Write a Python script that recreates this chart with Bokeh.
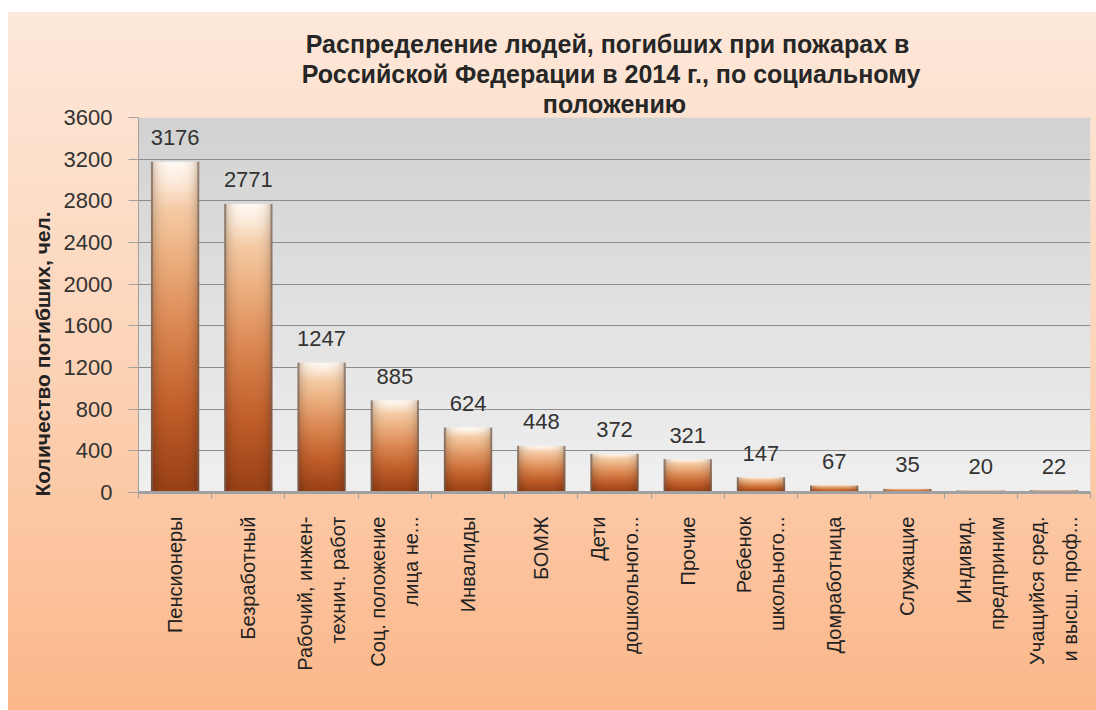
import numpy as np
from bokeh.plotting import figure
from bokeh.models import (ColumnDataSource, Range1d, FixedTicker, Title,
                          InlineStyleSheet)
from bokeh.core.properties import value
from bokeh.embed import file_html
from bokeh.resources import INLINE

# ---------------- data ----------------
categories = [
    "Пенсионеры",
    "Безработный",
    "Рабочий, инжен-\nтехнич. работ",
    "Соц. положение\nлица не...",
    "Инвалиды",
    "БОМЖ",
    "Дети\nдошкольного...",
    "Прочие",
    "Ребенок\nшкольного...",
    "Домработница",
    "Служащие",
    "Индивид.\nпредприним",
    "Учащийся сред.\nи высш. проф...",
]
deaths = [3176, 2771, 1247, 885, 624, 448, 372, 321, 147, 67, 35, 20, 22]
y_ticks = [0, 400, 800, 1200, 1600, 2000, 2400, 2800, 3200, 3600]
title_lines = ["Распределение  людей, погибших при пожарах  в",
               "Российской Федерации  в 2014 г., по социальному",
               "положению"]
y_label = "Количество погибших, чел."

FONT = "Liberation Sans"
n = len(categories)
centers = [i + 0.5 for i in range(n)]
bounds = [float(i) for i in range(n + 1)]
BAR_W = 0.66


def pack(r, g, b):
    h, w = r.shape
    img = np.empty((h, w), dtype=np.uint32)
    v = img.view(dtype=np.uint8).reshape((h, w, 4))
    v[..., 0] = np.clip(r, 0, 255)
    v[..., 1] = np.clip(g, 0, 255)
    v[..., 2] = np.clip(b, 0, 255)
    v[..., 3] = 255
    return img


# bar gradient (row 0 = bottom)
H, W = 256, 48
t = np.linspace(0, 1, H)[:, None] * np.ones((1, W))
u = np.ones((H, 1)) * np.linspace(0, 1, W)[None, :]
ts = [0.0, 0.25, 0.5, 0.75, 0.9, 1.0]
R = np.interp(t, ts, [152, 192, 220, 240, 248, 252])
G = np.interp(t, ts, [64, 94, 136, 184, 212, 232])
B = np.interp(t, ts, [22, 42, 82, 138, 178, 212])
s = np.abs(u - 0.5) * 2
shade = 1 - 0.22 * s ** 4
R, G, B = R * shade, G * shade, B * shade
glow = np.clip((t - 0.86) / 0.14, 0, 1) * (1 - s ** 2) * 0.8
R = R + (255 - R) * glow
G = G + (255 - G) * glow
B = B + (255 - B) * glow
edge = (s > 0.94).astype(float) * 0.65
R = R + (118 - R) * edge
G = G + (100 - G) * edge
B = B + (90 - B) * edge
bar_img = pack(R, G, B)

# plot-area gradient
bh = np.linspace(0, 1, 128)[:, None] * np.ones((1, 2))
gray = np.interp(bh, [0, 1], [240, 210])
bg_img = pack(gray, gray, gray)

# ---------------- figure ----------------
p = figure(width=1096, height=710, output_backend="svg", toolbar_location=None,
           x_range=Range1d(0, n), y_range=Range1d(0, 3600),
           min_border_left=138, min_border_right=6, min_border_top=117,
           min_border_bottom=218)
p.border_fill_alpha = 0
p.background_fill_alpha = 0
p.outline_line_color = None
p.stylesheets.append(InlineStyleSheet(css=(
    ":host { background-image: linear-gradient(to bottom, #fde8da 0%, #fcd6bb 45%, #fbb78a 100%);"
    " background-repeat: no-repeat; background-position: 8px 12px;"
    " background-size: calc(100% - 8px) calc(100% - 12px); }")))

p.image_rgba(image=[bg_img], x=0, y=0, dw=n, dh=3600, level="image")

bars = ColumnDataSource(dict(
    image=[bar_img] * n,
    x=[c - BAR_W / 2 for c in centers],
    y=[0] * n,
    dw=[BAR_W] * n,
    dh=deaths,
))
p.image_rgba(image="image", x="x", y="y", dw="dw", dh="dh", source=bars)

labels = ColumnDataSource(dict(x=centers, y=deaths, text=[str(v) for v in deaths]))
p.text(x="x", y="y", text="text", source=labels, text_align="center",
       text_baseline="middle", y_offset=-24, text_font=value(FONT),
       text_font_size="22px", text_color="#333333")


# title: three centred lines
def style_title(tt):
    tt.align = "center"
    tt.text_font = FONT
    tt.text_font_size = "25px"
    tt.text_font_style = "bold"
    tt.text_color = "#262626"
    tt.standoff = 0
    tt.offset = 8


p.title.text = title_lines[0]
style_title(p.title)
for line in [title_lines[2], title_lines[1]]:
    tt = Title(text=line)
    style_title(tt)
    p.add_layout(tt, "above")

# grid
p.xgrid.grid_line_color = None
p.ygrid.grid_line_color = "#8c8c8c"
p.ygrid.grid_line_width = 1
p.ygrid.ticker = FixedTicker(ticks=y_ticks)

# y axis
yax = p.yaxis[0]
yax.ticker = FixedTicker(ticks=y_ticks)
yax.major_label_text_font = FONT
yax.major_label_text_font_size = "22px"
yax.major_label_text_color = "#333333"
yax.major_label_standoff = 16
yax.major_tick_out = 10
yax.major_tick_in = 0
yax.major_tick_line_color = "#a0a0a0"
yax.minor_tick_line_color = None
yax.axis_line_color = "#a0a0a0"

# y axis title, bottom-aligned as in the original
ytitle = Title(text=y_label, align="left", text_font=FONT,
               text_font_size="21px", text_font_style="bold",
               text_color="#222222", standoff=14, offset=-4)
p.add_layout(ytitle, "left")

# x axis
xax = p.xaxis[0]
xax.ticker = FixedTicker(ticks=centers, minor_ticks=bounds)
xax.major_label_overrides = {c: lab for c, lab in zip(centers, categories)}
xax.major_label_orientation = np.pi / 2
xax.major_label_text_font = FONT
xax.major_label_text_font_size = "20px"
xax.major_label_text_color = "#222222"
xax.major_label_text_line_height = 1.5
xax.major_label_standoff = 18
xax.major_tick_line_color = None
xax.major_tick_out = 0
xax.major_tick_in = 0
xax.minor_tick_out = 6
xax.minor_tick_in = 0
xax.minor_tick_line_color = "#a0a0a0"
xax.axis_line_color = "#a0a0a0"
xax.axis_line_width = 3

open("out.html", "w").write(file_html(p, INLINE))
